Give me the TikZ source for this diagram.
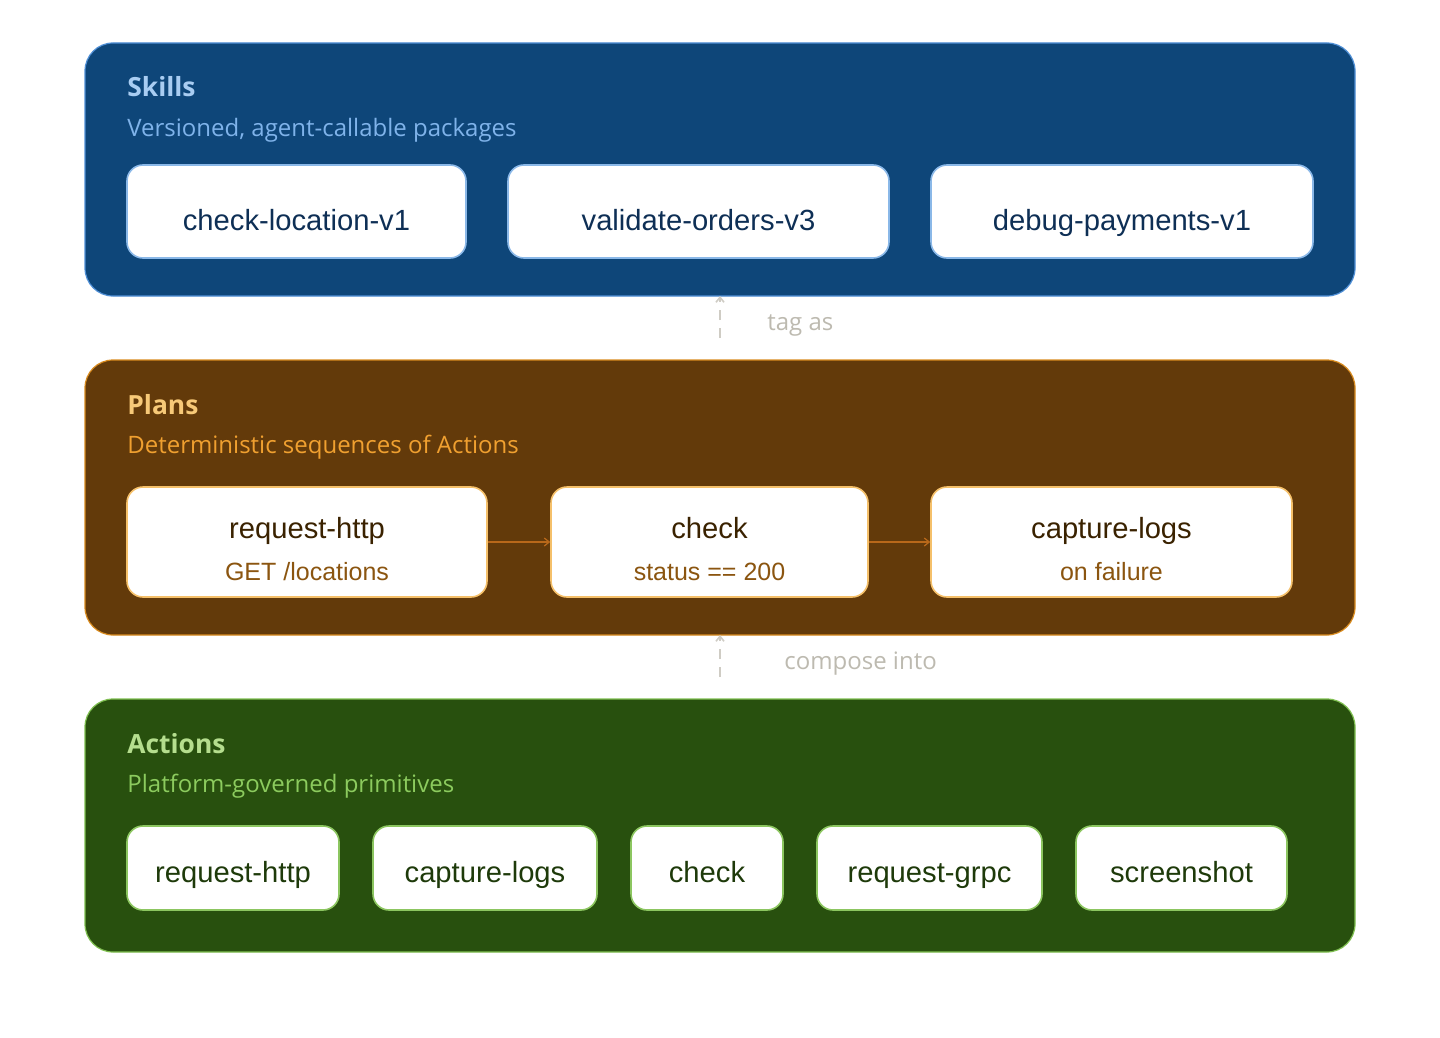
\documentclass[tikz,border=0pt]{standalone}
\usepackage{fontspec}
\setmainfont{Liberation Sans}
\newfontfamily\uifont{Open Sans}
\usetikzlibrary{arrows.meta}
\definecolor{skfill}{HTML}{0E4679}
\definecolor{skline}{HTML}{4F8FD6}
\definecolor{sktitle}{HTML}{A9CDF2}
\definecolor{sksub}{HTML}{7FB3EA}
\definecolor{skbox}{HTML}{8AB8E8}
\definecolor{sktext}{HTML}{0E2F55}
\definecolor{plfill}{HTML}{633A0A}
\definecolor{plline}{HTML}{D98B1E}
\definecolor{pltitle}{HTML}{F7C978}
\definecolor{plsub}{HTML}{F0A030}
\definecolor{plbox}{HTML}{F5C06A}
\definecolor{pltext}{HTML}{3A2200}
\definecolor{plsubtext}{HTML}{8B5510}
\definecolor{plarrow}{HTML}{B8681A}
\definecolor{acfill}{HTML}{28500E}
\definecolor{acline}{HTML}{7FBF50}
\definecolor{actitle}{HTML}{B5DE8E}
\definecolor{acsub}{HTML}{8CCB5E}
\definecolor{acbox}{HTML}{8CC660}
\definecolor{actext}{HTML}{1E3A0A}
\definecolor{conn}{HTML}{CFCCC4}
\definecolor{connlabel}{HTML}{BDBAB0}
\tikzset{
  layer/.style={rounded corners=14pt, line width=0.6pt},
  title/.style={anchor=west, inner sep=0pt, font=\uifont\bfseries\fontsize{13.2}{16}\selectfont},
  subtitle/.style={anchor=west, inner sep=0pt, font=\uifont\fontsize{12}{14}\selectfont},
  itembox/.style={draw, fill=white, rounded corners=8pt, line width=0.8pt},
  itemtext/.style={anchor=base, inner sep=0pt, font=\fontsize{14.6}{17}\selectfont},
  subtext/.style={anchor=base, inner sep=0pt, font=\fontsize{12.5}{15}\selectfont},
  flow/.style={draw=plarrow, line width=0.6pt, -{Straight Barb[length=2.5pt,width=4pt]}},
  upconn/.style={draw=conn, line width=0.8pt, dash pattern=on 5pt off 4pt, -{Straight Barb[length=2.5pt,width=4pt]}},
  connlab/.style={anchor=west, inner sep=0pt, text=connlabel, font=\uifont\fontsize{12}{14}\selectfont}
}
\begin{document}
\begin{tikzpicture}[x=0.5pt,y=-0.5pt]
\useasboundingbox[fill=white] (0,0) rectangle (1440,1038);
% ---- Skills layer
\draw[layer, fill=skfill, draw=skline] (85,43) rectangle (1355,296);
\node[title, text=sktitle] (skT) at (127,87) {Skills};
\node[subtitle, text=sksub] (skS) at (127,130) {Versioned, agent-callable packages};
\draw[itembox, draw=skbox] (127,165) rectangle (466,258);
\draw[itembox, draw=skbox] (508,165) rectangle (889,258);
\draw[itembox, draw=skbox] (931,165) rectangle (1313,258);
\node[itemtext, text=sktext] (sk1) at (296.5,230) {check-location-v1};
\node[itemtext, text=sktext] (sk2) at (698.5,230) {validate-orders-v3};
\node[itemtext, text=sktext] (sk3) at (1122,230) {debug-payments-v1};
\coordinate (skBot) at (720,296);
% ---- Plans layer
\draw[layer, fill=plfill, draw=plline] (85,360) rectangle (1355,635);
\node[title, text=pltitle] (plT) at (127,405) {Plans};
\node[subtitle, text=plsub] (plS) at (127,447) {Deterministic sequences of Actions};
\node[itembox, draw=plbox, minimum width=180pt, minimum height=55pt, inner sep=0pt] (p1) at (307,542) {};
\node[itembox, draw=plbox, minimum width=158.5pt, minimum height=55pt, inner sep=0pt] (p2) at (709.5,542) {};
\node[itembox, draw=plbox, minimum width=180.5pt, minimum height=55pt, inner sep=0pt] (p3) at (1111.5,542) {};
\node[itemtext, text=pltext] (p1t) at (307,538) {request-http};
\node[subtext, text=plsubtext] (p1s) at (307,580) {GET /locations};
\node[itemtext, text=pltext] (p2t) at (709.5,538) {check};
\node[subtext, text=plsubtext] (p2s) at (709.5,580) {status == 200};
\node[itemtext, text=pltext] (p3t) at (1111.5,538) {capture-logs};
\node[subtext, text=plsubtext] (p3s) at (1111.5,580) {on failure};
\draw[flow] (p1.east) -- (p2.west);
\draw[flow] (p2.east) -- (p3.west);
\coordinate (plTop) at (720,338);
\coordinate (plBot) at (720,635);
% ---- Actions layer
\draw[layer, fill=acfill, draw=acline] (85,699) rectangle (1355,952);
\node[title, text=actitle] (acT) at (127,744) {Actions};
\node[subtitle, text=acsub] (acS) at (127,786) {Platform-governed primitives};
\draw[itembox, draw=acbox] (127,826) rectangle (339,910);
\draw[itembox, draw=acbox] (373,826) rectangle (597,910);
\draw[itembox, draw=acbox] (631,826) rectangle (783,910);
\draw[itembox, draw=acbox] (817,826) rectangle (1042,910);
\draw[itembox, draw=acbox] (1076,826) rectangle (1287,910);
\node[itemtext, text=actext] (a1) at (233,882) {request-http};
\node[itemtext, text=actext] (a2) at (485,882) {capture-logs};
\node[itemtext, text=actext] (a3) at (707,882) {check};
\node[itemtext, text=actext] (a4) at (929.5,882) {request-grpc};
\node[itemtext, text=actext] (a5) at (1181.5,882) {screenshot};
\coordinate (acTop) at (720,677);
% ---- connectors between layers
\draw[upconn] (plTop) -- (skBot);
\node[connlab] (l1) at (767,325) {tag as};
\draw[upconn] (acTop) -- (plBot);
\node[connlab] (l2) at (784,664) {compose into};
\end{tikzpicture}
\end{document}
